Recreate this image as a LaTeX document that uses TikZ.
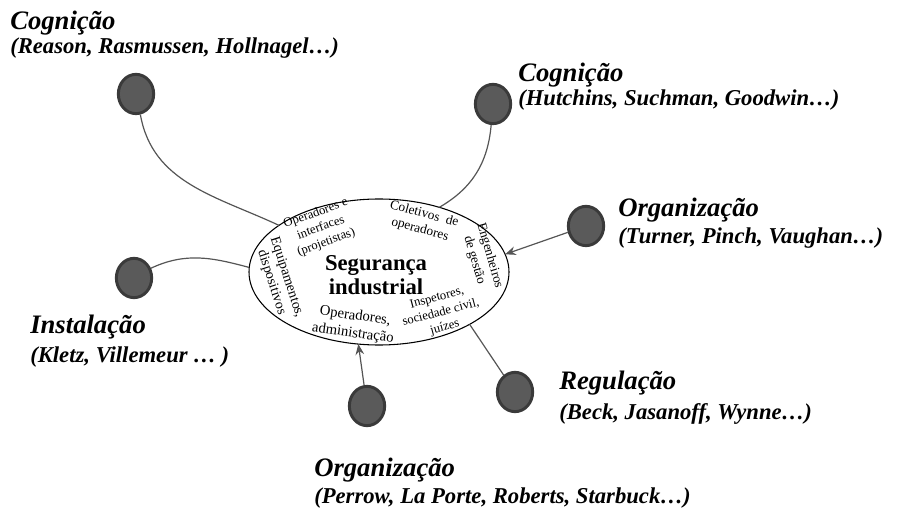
\documentclass[tikz,border=0pt]{standalone}
\usepackage{fontspec}
\setmainfont{Liberation Serif}
\usetikzlibrary{shapes.geometric,arrows.meta}
\definecolor{dotfill}{HTML}{5A5A5A}
\definecolor{dotline}{HTML}{3A3A3A}
\definecolor{linkgray}{HTML}{555555}

\begin{document}
\begin{tikzpicture}[x=0.75pt,y=0.75pt,
            main ell/.style={ellipse,draw,line width=0.8pt,minimum width=195pt,
                             minimum height=109.5pt,inner sep=0,outer sep=0},
            topic dot/.style={ellipse,draw=dotline,fill=dotfill,line width=2.2pt,
                             minimum width=26.5pt,minimum height=29.5pt,inner sep=0},
            link/.style={draw=linkgray,line width=0.9pt},
            topic head/.style={anchor=base west,inner sep=0,font=\fontsize{20}{24}\selectfont\bfseries\itshape},
            topic refs/.style={anchor=base west,inner sep=0,font=\fontsize{17}{20}\selectfont\bfseries\itshape},
            inner txt/.style={align=center,inner sep=0,font=\fontsize{9.5}{11.5}\selectfont}]
            \useasboundingbox (0,0) rectangle (900,511);
            %==================
            \node[main ell] (seg) at (379,239) {};
            \node[align=center,inner sep=0,font=\fontsize{17}{18}\selectfont\bfseries] (segtxt) at (376,236) {Segurança\\industrial};
            %==================
            \node[inner txt,rotate=20] (projs) at (321,283) {Operadores e\\interfaces\\(projetistas)};
            \node[inner txt,rotate=-15,font=\fontsize{10}{12}\selectfont] (colet) at (422,289) {Coletivos\ \ de\\operadores};
            \node[inner txt,rotate=-74,font=\fontsize{10}{12}\selectfont] (engen) at (482,253) {Engenheiros\\de gestão};
            \node[inner txt,rotate=-72,font=\fontsize{10.5}{12}\selectfont] (equip) at (279,231) {Equipamentos,\\dispositivos};
            \node[inner txt,rotate=-8,font=\fontsize{11}{13}\selectfont] (admin) at (354,186) {Operadores,\\administração};
            \node[inner txt,rotate=15] (inspe) at (441,198) {Inspetores,\\sociedade civil,\\juízes};
            % ===================
            \foreach \n/\x/\y in {1/136/417,2/493/407,3/586/285,4/134/233,5/515/119,6/367/105}{
            \node[topic dot] (c\n) at (\x,\y) {};
            }
            % ===================
            \draw[link] (c1.-78) to[out=-80,in=155] (seg.155);
            \draw[link] (c2.-95) to[out=-95,in=30] (seg.47);
            \draw[link,-{Stealth[length=8pt,width=6.5pt]}] (c3) -- (seg.8);
            \draw[link] (c4.30) to[out=25,in=165] (seg.178);
            \draw[link] (c5) -- (seg.-30);
            \draw[link,-{Stealth[length=8pt,width=6.5pt]}] (c6) -- (seg.-106);
            % ===================
            \node[topic head] (h1) at (10,481) {Cognição};
            \node[topic refs] (r1) at (10,457) {(Reason, Rasmussen, Hollnagel…)};
            \node[topic head] (h2) at (518,429) {Cognição};
            \node[topic refs] (r2) at (518,405) {(Hutchins, Suchman, Goodwin…)};
            \node[topic head] (h3) at (618,294) {Organização};
            \node[topic refs] (r3) at (618,267) {(Turner, Pinch, Vaughan…)};
            \node[topic head] (h4) at (30,177) {Instalação};
            \node[topic refs] (r4) at (30,148) {(Kletz, Villemeur … )};
            \node[topic head] (h5) at (559,122) {Regulação};
            \node[topic refs] (r5) at (559,92) {(Beck, Jasanoff, Wynne…)};
            \node[topic head] (h6) at (314,35) {Organização};
            \node[topic refs] (r6) at (314,8) {(Perrow, La Porte, Roberts, Starbuck…)};
        \end{tikzpicture}
\end{document}
